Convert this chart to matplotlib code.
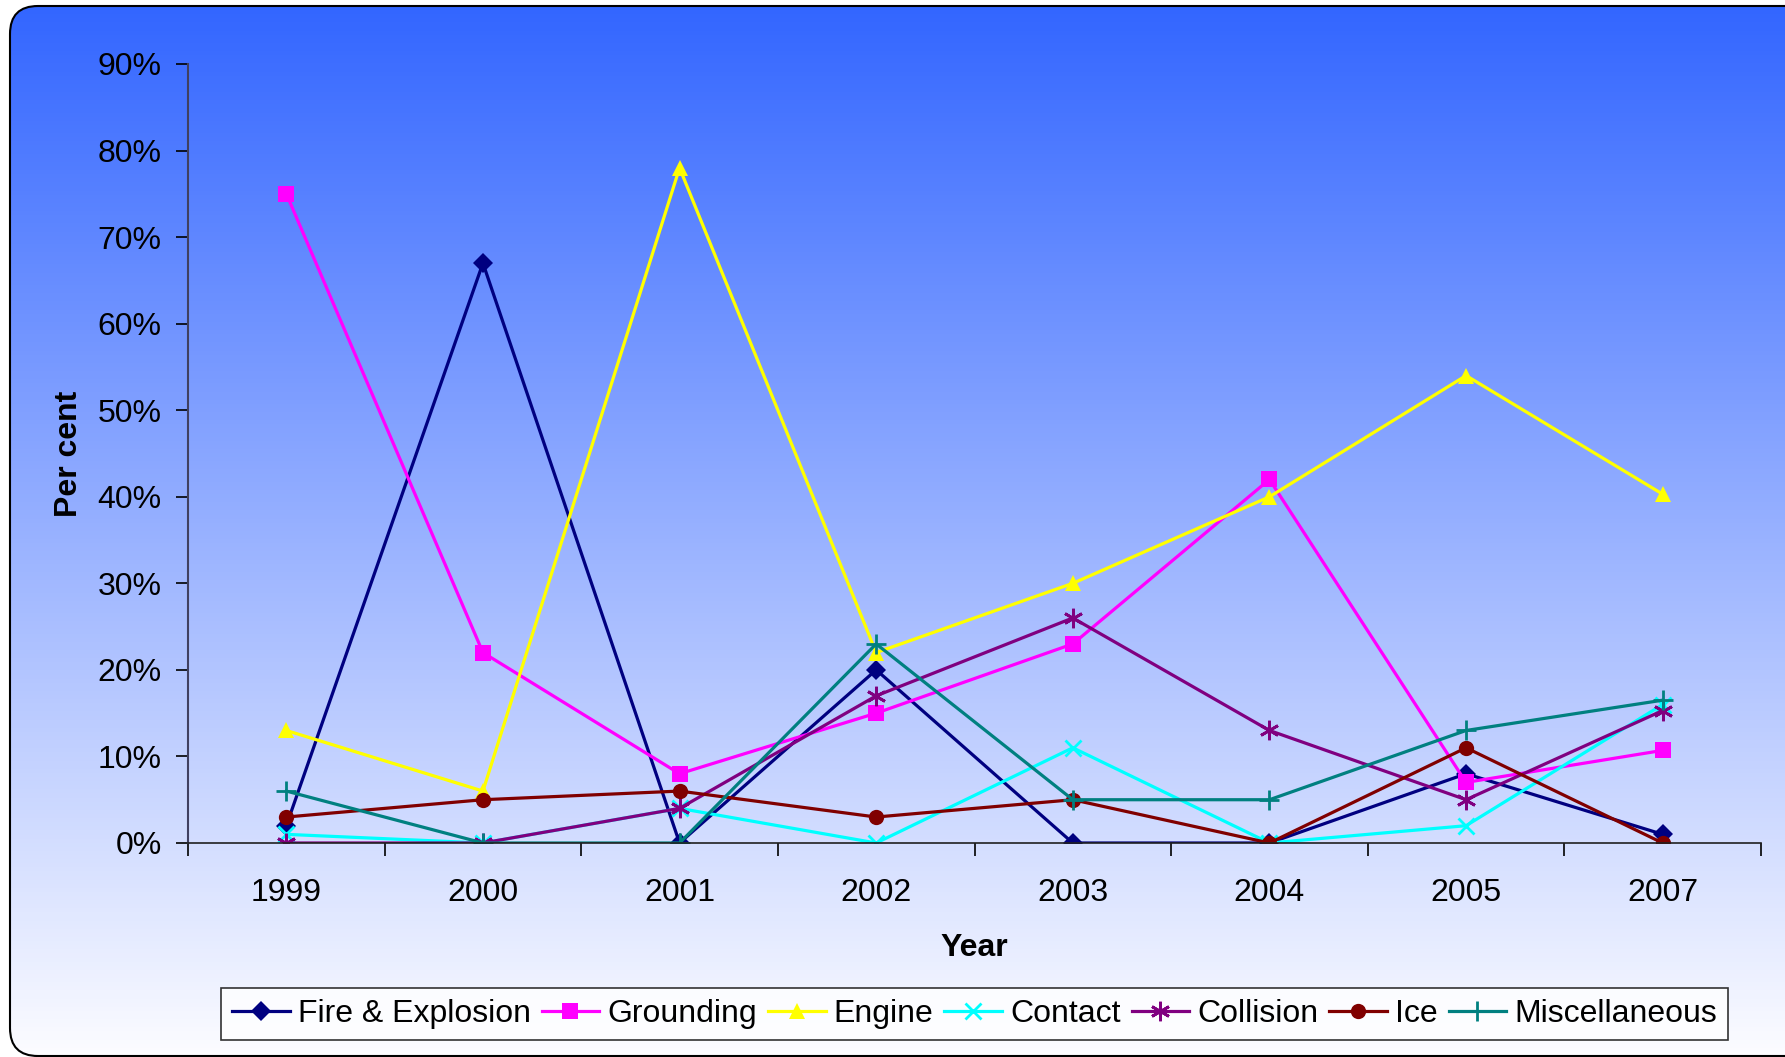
import matplotlib.pyplot as plt
import numpy as np
from matplotlib.patches import FancyBboxPatch

years = ['1999', '2000', '2001', '2002', '2003', '2004', '2005', '2007']

fire = [2, 67, 0, 20, 0, 0, 8, 1]
grounding = [75, 22, 8, 15, 23, 42, 7, 10.7]
engine = [13, 6, 78, 22, 30, 40, 54, 40.3]
contact = [1, 0, 4, 0, 11, 0, 2, 16]
collision = [0, 0, 4, 17, 26, 13, 5, 15.3]
ice = [3, 5, 6, 3, 5, 0, 11, 0]
misc = [6, 0, 0, 23, 5, 5, 13, 16.5]

series = [
    ('Fire & Explosion', fire, '#000080', 'D', 10),
    ('Grounding', grounding, '#FF00FF', 's', 11),
    ('Engine', engine, '#FFFF00', '^', 12),
    ('Contact', contact, '#00FFFF', 'x', 12),
    ('Collision', collision, '#800080', (6, 2, 0), 14),
    ('Ice', ice, '#800000', 'o', 11),
    ('Miscellaneous', misc, '#008080', '+', 14),
]

plt.rcParams['font.family'] = ['Liberation Sans', 'DejaVu Sans']
FS = 23

W, H = 1785, 1057
fig = plt.figure(figsize=(W / 100, H / 100), dpi=100)
fig.patch.set_facecolor('white')

# gradient background inside a rounded frame
bg = fig.add_axes([0, 0, 1, 1], zorder=-1)
bg.set_xlim(0, W)
bg.set_ylim(0, H)
bg.axis('off')
t = np.linspace(0, 1, 256)[:, None]
top = np.array([0x33, 0x66, 0xFF]) / 255
bot = np.array([0xFC, 0xFC, 0xFF]) / 255
grad = top[None, None, :] * (1 - t[..., None]) + bot[None, None, :] * t[..., None]
grad = np.repeat(grad, 2, axis=1)
frame = FancyBboxPatch((10, 1), 1840, 1050,
                       boxstyle='round,pad=0,rounding_size=28',
                       facecolor='none', edgecolor='black', linewidth=1.5,
                       transform=bg.transData)
bg.add_patch(frame)
im = bg.imshow(grad, extent=(10, 1850, 1, 1051), aspect='auto', origin='upper')
im.set_clip_path(frame)

ax = fig.add_axes([188 / W, 1 - 843 / H, (1761 - 188) / W, (843 - 64) / H])
ax.patch.set_alpha(0)

x = np.arange(len(years))
for name, vals, col, mk, ms in series:
    v = np.array(vals) / 100
    kw = dict(markeredgewidth=2) if mk in ('x', '+') or isinstance(mk, tuple) else dict(markeredgewidth=0)
    ax.plot(x, v, color=col, lw=2.3, marker=mk, markersize=ms,
            markerfacecolor=col, markeredgecolor=col, label=name, **kw)

ax.set_xlim(-0.5, len(years) - 0.5)
ax.set_ylim(0, 0.9)
ax.set_yticks(np.arange(0, 0.91, 0.1))
ax.set_yticklabels([f'{int(round(v * 100))}%' for v in np.arange(0, 0.91, 0.1)])
ax.set_xticks(x)
ax.set_xticklabels(years)
ax.set_xticks(np.arange(-0.5, len(years)), minor=True)
ax.tick_params(axis='x', which='major', length=0, pad=25, labelsize=FS)
ax.tick_params(axis='x', which='minor', length=9, width=1.2, direction='out')
ax.tick_params(axis='y', length=9, width=1.2, pad=10, labelsize=FS)

for s in ('top', 'right'):
    ax.spines[s].set_visible(False)
ax.spines['left'].set_color('#404060')
ax.spines['left'].set_linewidth(1.5)
ax.spines['bottom'].set_color('#202020')
ax.spines['bottom'].set_linewidth(1.2)

ax.set_xlabel('Year', fontsize=FS, fontweight='bold', labelpad=18)
ax.set_ylabel('Per cent', fontsize=FS, fontweight='bold', labelpad=10)

leg = fig.legend(loc='center', bbox_to_anchor=(974.5 / W, 1 - 1014 / H), ncol=7,
                 fontsize=FS, frameon=True, fancybox=False, handlelength=1.8,
                 handletextpad=0.25, columnspacing=0.35, borderpad=0.35,
                 borderaxespad=0)
leg.get_frame().set_edgecolor('black')
leg.get_frame().set_facecolor('white')
leg.get_frame().set_linewidth(1.2)

fig.savefig('out.png', dpi=100)
